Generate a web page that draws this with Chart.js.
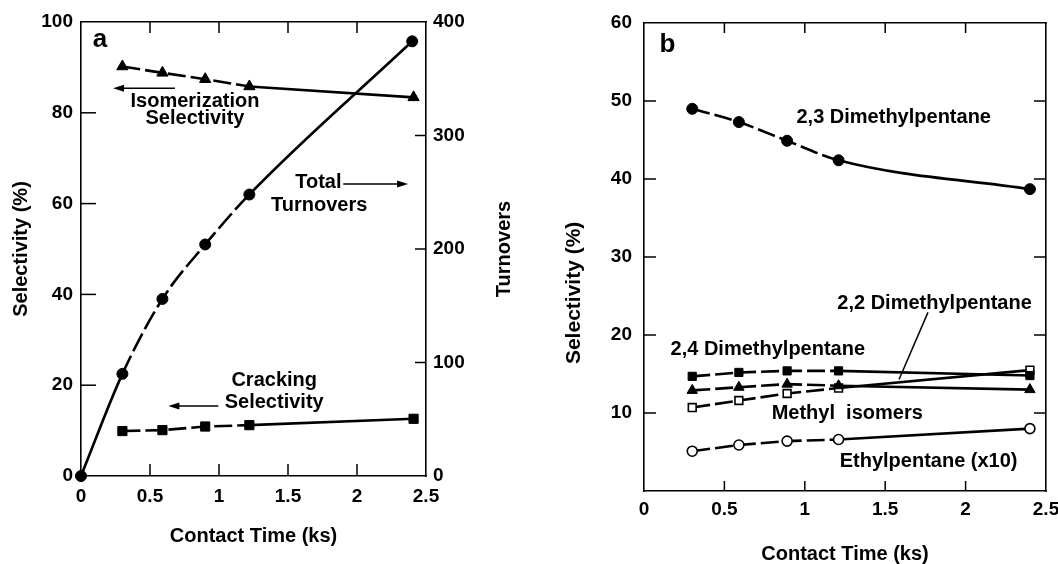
<!DOCTYPE html>
<html><head><meta charset="utf-8">
<script src="https://cdn.jsdelivr.net/npm/chart.js@4.4.1/dist/chart.umd.min.js"></script>
<style>
html,body{margin:0;padding:0;background:#fff;}
#wrap{position:relative;width:1058px;height:564px;overflow:hidden;background:#fff;}
#ca{position:absolute;left:0;top:0;}
#cb{position:absolute;left:530px;top:0;}
</style></head><body>
<div id="wrap"><canvas id="ca" width="530" height="564"></canvas><canvas id="cb" width="528" height="564"></canvas></div>
<script>
// ---------- Panel a data ----------
const timeA = [0.3, 0.59, 0.9, 1.22, 2.41];
const turnoverTime = [0, 0.3, 0.59, 0.9, 1.22, 2.4];
const turnovers = [0, 90, 156, 204, 248, 383];
const isomerizationSel = [90.2, 88.8, 87.4, 85.8, 83.4];
const crackingSel = [9.9, 10.1, 10.9, 11.2, 12.6];
const xTicks = [0, 0.5, 1, 1.5, 2, 2.5];
const xTickLabels = ['0', '0.5', '1', '1.5', '2', '2.5'];
const selTicksA = [0, 20, 40, 60, 80, 100];
const turnoverTicks = [0, 100, 200, 300, 400];

// ---------- Panel b data ----------
const timeB = [0.3, 0.59, 0.89, 1.21, 2.4];
const dmp23 = [49.0, 47.3, 44.9, 42.4, 38.7];
const dmp24 = [14.7, 15.2, 15.4, 15.4, 14.8];
const methylIsomers = [12.9, 13.3, 13.7, 13.5, 13.0];
const dmp22 = [10.7, 11.6, 12.5, 13.2, 15.5];
const ethylpentaneX10 = [5.1, 5.9, 6.4, 6.6, 8.0];
const selTicksB = [0, 10, 20, 30, 40, 50, 60];
const selTickLabelsB = ['', '10', '20', '30', '40', '50', '60'];

// ---------- annotations (data coordinates) ----------
const notesA = [
  {text: 'a', x: 0.138, y: 96.1, size: 26},
  {text: 'Isomerization', x: 0.826, y: 82.6},
  {text: 'Selectivity', x: 0.826, y: 78.8},
  {text: 'Total', x: 1.72, y: 64.7},
  {text: 'Turnovers', x: 1.726, y: 59.5},
  {text: 'Cracking', x: 1.40, y: 21.1},
  {text: 'Selectivity', x: 1.40, y: 16.1},
  {text: 'Turnovers', x: 3.07, y: 50, rotate: true}
];
const arrowsA = [
  {x1: 0.681, y1: 85.4, x2: 0.232, y2: 85.4, head: true},
  {x1: 1.90, y1: 64.3, x2: 2.37, y2: 64.3, head: true},
  {x1: 0.995, y1: 15.4, x2: 0.633, y2: 15.4, head: true}
];
const notesB = [
  {text: 'b', x: 0.146, y: 57.2, size: 26},
  {text: '2,3 Dimethylpentane', x: 1.553, y: 47.9},
  {text: '2,2 Dimethylpentane', x: 1.807, y: 24.0},
  {text: '2,4 Dimethylpentane', x: 0.770, y: 18.2},
  {text: 'Methyl\u00A0\u00A0isomers', x: 1.264, y: 9.9},
  {text: 'Ethylpentane (x10)', x: 1.770, y: 3.8},
  {text: 'Selectivity (%)', x: -0.435, y: 25.4, rotate: true, size: 21}
];
const arrowsB = [
  {x1: 1.766, y1: 22.9, x2: 1.586, y2: 14.3, head: false}
];

const FONT = '"Liberation Sans", Arial, Helvetica, sans-serif';
Chart.defaults.font.family = FONT;
Chart.defaults.font.weight = 'bold';
Chart.defaults.color = '#000';

const pts = (xs, ys) => xs.map((x, i) => ({x, y: ys[i]}));
const fix = (dim, val) => s => { s[dim] = val; s.paddingLeft = 0; s.paddingRight = 0; s.paddingTop = 0; s.paddingBottom = 0; };
const setTicks = arr => s => { s.ticks = arr.map(v => ({value: v})); };
const lbl = (vals, labels) => v => { const i = vals.indexOf(v); return i >= 0 ? labels[i] : ''; };
const border = {display: true, color: '#000', width: 1.6};
const noGrid = {display: false, drawTicks: false};

const boxTicks = {
  id: 'boxTicks',
  afterDraw(chart, args, opts) {
    const ctx = chart.ctx, a = chart.chartArea;
    ctx.save(); ctx.strokeStyle = '#000'; ctx.lineWidth = 1.5;
    for (const [id, len] of Object.entries(opts.len || {})) {
      const s = chart.scales[id]; if (!s) continue;
      for (const t of s.ticks) {
        if (t.value <= s.min || t.value >= s.max) continue;
        const p = s.getPixelForValue(t.value);
        ctx.beginPath();
        if (s.position === 'left') { ctx.moveTo(a.left, p); ctx.lineTo(a.left + len, p); }
        else if (s.position === 'right') { ctx.moveTo(a.right, p); ctx.lineTo(a.right - len, p); }
        else if (s.position === 'top') { ctx.moveTo(p, a.top); ctx.lineTo(p, a.top + len); }
        else { ctx.moveTo(p, a.bottom); ctx.lineTo(p, a.bottom - len); }
        ctx.stroke();
      }
    }
    ctx.restore();
  }
};

const notes = {
  id: 'notes',
  afterDraw(chart, args, opts) {
    const ctx = chart.ctx, xs = chart.scales.x, ys = chart.scales.y;
    ctx.save();
    ctx.fillStyle = '#000'; ctx.strokeStyle = '#000';
    (opts.texts || []).forEach(t => {
      ctx.font = 'bold ' + (t.size || 20) + 'px ' + FONT;
      ctx.textAlign = 'center'; ctx.textBaseline = 'middle';
      const px = xs.getPixelForValue(t.x), py = ys.getPixelForValue(t.y);
      if (t.rotate) { ctx.save(); ctx.translate(px, py); ctx.rotate(-Math.PI / 2); ctx.fillText(t.text, 0, 0); ctx.restore(); }
      else ctx.fillText(t.text, px, py);
    });
    (opts.arrows || []).forEach(ar => {
      const x1 = xs.getPixelForValue(ar.x1), y1 = ys.getPixelForValue(ar.y1);
      const x2 = xs.getPixelForValue(ar.x2), y2 = ys.getPixelForValue(ar.y2);
      const ang = Math.atan2(y2 - y1, x2 - x1);
      const hl = ar.head ? 11 : 0;
      ctx.lineWidth = 1.5;
      ctx.beginPath(); ctx.moveTo(x1, y1);
      ctx.lineTo(x2 - Math.cos(ang) * hl * 0.8, y2 - Math.sin(ang) * hl * 0.8); ctx.stroke();
      if (ar.head) {
        ctx.beginPath();
        ctx.moveTo(x2, y2);
        ctx.lineTo(x2 - Math.cos(ang) * hl + Math.sin(ang) * 3.5, y2 - Math.sin(ang) * hl - Math.cos(ang) * 3.5);
        ctx.lineTo(x2 - Math.cos(ang) * hl - Math.sin(ang) * 3.5, y2 - Math.sin(ang) * hl + Math.cos(ang) * 3.5);
        ctx.closePath(); ctx.fill();
      }
    });
    ctx.restore();
  }
};

const dashEarly = {borderDash: c => (c.p0DataIndex < 3 ? [18, 5] : undefined)};
const dashMid = {borderDash: c => (c.p0DataIndex >= 1 && c.p0DataIndex <= 3 ? [20, 5] : undefined)};
const base = {borderColor: '#000', borderWidth: 2.6, pointBorderColor: '#000', clip: false, fill: false};

new Chart(document.getElementById('ca'), {
  type: 'line',
  data: {datasets: [
    Object.assign({}, base, {label: 'Total Turnovers', data: pts(turnoverTime, turnovers), yAxisID: 'y2',
      pointStyle: 'circle', pointRadius: 5.5, pointBackgroundColor: '#000', pointBorderWidth: 1,
      cubicInterpolationMode: 'monotone', segment: dashMid}),
    Object.assign({}, base, {label: 'Isomerization Selectivity', data: pts(timeA, isomerizationSel), yAxisID: 'y',
      pointStyle: 'triangle', pointRadius: 6.5, pointBackgroundColor: '#000', pointBorderWidth: 1, segment: dashEarly}),
    Object.assign({}, base, {label: 'Cracking Selectivity', data: pts(timeA, crackingSel), yAxisID: 'y',
      pointStyle: 'rect', pointRadius: 6.5, pointBackgroundColor: '#000', pointBorderWidth: 1, segment: dashEarly})
  ]},
  options: {
    responsive: false, animation: false, devicePixelRatio: 1,
    layout: {padding: 0},
    plugins: {legend: {display: false}, tooltip: {enabled: false},
      boxTicks: {len: {y: 15, y2: 11, x: 12, x2: 11}},
      notes: {texts: notesA, arrows: arrowsA}},
    scales: {
      x: {type: 'linear', position: 'bottom', min: 0, max: 2.5, afterBuildTicks: setTicks(xTicks),
        ticks: {callback: lbl(xTicks, xTickLabels), padding: 9, maxRotation: 0, autoSkip: false, font: {size: 19, weight: 'bold'}, color: '#000'},
        grid: noGrid, border: border,
        title: {display: true, text: 'Contact Time (ks)', color: '#000', font: {size: 20, weight: 'bold', lineHeight: 1}, padding: {top: 0, bottom: 18}},
        afterFit: fix('height', 88)},
      x2: {type: 'linear', position: 'top', min: 0, max: 2.5, afterBuildTicks: setTicks(xTicks),
        ticks: {display: false}, grid: noGrid, border: border, afterFit: fix('height', 22)},
      y: {type: 'linear', position: 'left', min: 0, max: 100, afterBuildTicks: setTicks(selTicksA),
        ticks: {padding: 8, font: {size: 19, weight: 'bold'}, color: '#000'},
        grid: noGrid, border: border,
        title: {display: true, text: 'Selectivity (%)', color: '#000', font: {size: 20, weight: 'bold', lineHeight: 1}, padding: {top: 11, bottom: 0}},
        afterFit: fix('width', 81)},
      y2: {type: 'linear', position: 'right', min: 0, max: 400, afterBuildTicks: setTicks(turnoverTicks),
        ticks: {padding: 7, crossAlign: 'near', font: {size: 19, weight: 'bold'}, color: '#000'},
        grid: noGrid, border: border, afterFit: fix('width', 104)}
    }
  },
  plugins: [boxTicks, notes]
});

new Chart(document.getElementById('cb'), {
  type: 'line',
  data: {datasets: [
    Object.assign({}, base, {label: '2,3 Dimethylpentane', data: pts(timeB, dmp23),
      pointStyle: 'circle', pointRadius: 5.5, pointBackgroundColor: '#000', pointBorderWidth: 1,
      cubicInterpolationMode: 'monotone', segment: dashEarly}),
    Object.assign({}, base, {label: '2,4 Dimethylpentane', data: pts(timeB, dmp24),
      pointStyle: 'rect', pointRadius: 5.8, pointBackgroundColor: '#000', pointBorderWidth: 1, segment: dashEarly}),
    Object.assign({}, base, {label: 'Methyl isomers', data: pts(timeB, methylIsomers),
      pointStyle: 'triangle', pointRadius: 6, pointBackgroundColor: '#000', pointBorderWidth: 1, segment: dashEarly}),
    Object.assign({}, base, {label: '2,2 Dimethylpentane', data: pts(timeB, dmp22),
      pointStyle: 'rect', pointRadius: 5.5, pointBackgroundColor: '#fff', pointBorderWidth: 1.6, segment: dashEarly}),
    Object.assign({}, base, {label: 'Ethylpentane (x10)', data: pts(timeB, ethylpentaneX10),
      pointStyle: 'circle', pointRadius: 5, pointBackgroundColor: '#fff', pointBorderWidth: 1.6, segment: dashEarly})
  ]},
  options: {
    responsive: false, animation: false, devicePixelRatio: 1,
    layout: {padding: 0},
    plugins: {legend: {display: false}, tooltip: {enabled: false},
      boxTicks: {len: {y: 12, y2: 12, x: 10, x2: 10}},
      notes: {texts: notesB, arrows: arrowsB}},
    scales: {
      x: {type: 'linear', position: 'bottom', min: 0, max: 2.5, afterBuildTicks: setTicks(xTicks),
        ticks: {callback: lbl(xTicks, xTickLabels), padding: 7, maxRotation: 0, autoSkip: false, font: {size: 19, weight: 'bold'}, color: '#000'},
        grid: noGrid, border: border,
        title: {display: true, text: 'Contact Time (ks)', color: '#000', font: {size: 20, weight: 'bold', lineHeight: 1}, padding: {top: 0, bottom: 0}},
        afterFit: fix('height', 73)},
      x2: {type: 'linear', position: 'top', min: 0, max: 2.5, afterBuildTicks: setTicks(xTicks),
        ticks: {display: false}, grid: noGrid, border: border, afterFit: fix('height', 23)},
      y: {type: 'linear', position: 'left', min: 0, max: 60, afterBuildTicks: setTicks(selTicksB),
        ticks: {callback: lbl(selTicksB, selTickLabelsB), padding: 12, font: {size: 19, weight: 'bold'}, color: '#000'},
        grid: noGrid, border: border, afterFit: fix('width', 114)},
      y2: {type: 'linear', position: 'right', min: 0, max: 60, afterBuildTicks: setTicks(selTicksB),
        ticks: {display: false}, grid: noGrid, border: border, afterFit: fix('width', 12)}
    }
  },
  plugins: [boxTicks, notes]
});
</script>
</body></html>
